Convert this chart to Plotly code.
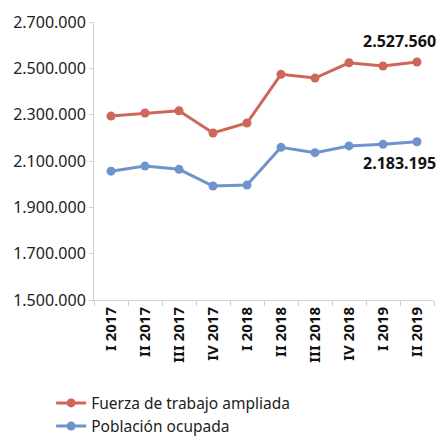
import plotly.graph_objects as go

categories = ["I 2017", "II 2017", "III 2017", "IV 2017", "I 2018",
              "II 2018", "III 2018", "IV 2018", "I 2019", "II 2019"]
fuerza = [2294000, 2307000, 2317000, 2221000, 2264000,
          2474000, 2458000, 2524000, 2510000, 2527560]
ocupada = [2056000, 2078000, 2064000, 1992000, 1996000,
           2159000, 2136000, 2165000, 2172000, 2183195]
y_ticks = [1500000, 1700000, 1900000, 2100000, 2300000, 2500000, 2700000]

red = "#CD6758"
blue = "#6F94CC"
font = "Noto Sans"

fig = go.Figure()
fig.add_trace(go.Scatter(x=categories, y=fuerza, mode="lines+markers",
                         name="Fuerza de trabajo ampliada",
                         line=dict(color=red, width=3),
                         marker=dict(color=red, size=9)))
fig.add_trace(go.Scatter(x=categories, y=ocupada, mode="lines+markers",
                         name="Población ocupada",
                         line=dict(color=blue, width=3),
                         marker=dict(color=blue, size=9)))

fig.add_annotation(xref="paper", x=1.012, y=fuerza[-1],
                   text="<b>" + f"{fuerza[-1]:,}".replace(",", ".") + "</b>",
                   showarrow=False, xanchor="right", yshift=21,
                   font=dict(family=font, size=16, color="#111111"))
fig.add_annotation(xref="paper", x=1.012, y=ocupada[-1],
                   text="<b>" + f"{ocupada[-1]:,}".replace(",", ".") + "</b>",
                   showarrow=False, xanchor="right", yshift=-21,
                   font=dict(family=font, size=16, color="#111111"))

fig.update_layout(
    width=441, height=439,
    margin=dict(l=94, r=7, t=22, b=139, autoexpand=False),
    paper_bgcolor="white", plot_bgcolor="white",
    separators=",.",
    font=dict(family=font, size=16, color="#222222"),
    showlegend=True,
    legend=dict(orientation="v", xref="container", x=0.116, xanchor="left",
                yref="container", y=0.12, yanchor="top",
                font=dict(family=font, size=15.5, color="#222222"),
                tracegroupgap=0, itemwidth=30),
    xaxis=dict(type="category", tickangle=-90, tickson="boundaries",
               ticks="outside", ticklen=5, tickcolor="#D0D0D0",
               showline=True, linecolor="#D0D0D0", linewidth=1,
               showgrid=False, range=[-0.5, 9.5],
               tickfont=dict(family=font, size=15, color="#111111", weight="bold")),
    yaxis=dict(range=[1500000, 2700000], tickvals=y_ticks, tickformat=",d",
               ticks="outside", ticklen=4, tickcolor="#D0D0D0",
               showline=True, linecolor="#D0D0D0", linewidth=1,
               showgrid=False, zeroline=False,
               tickfont=dict(family=font, size=16, color="#222222")),
)

fig.write_html("out.html", config={"displayModeBar": False},
               post_script="document.body.style.margin='0';document.body.style.overflow='hidden';")
